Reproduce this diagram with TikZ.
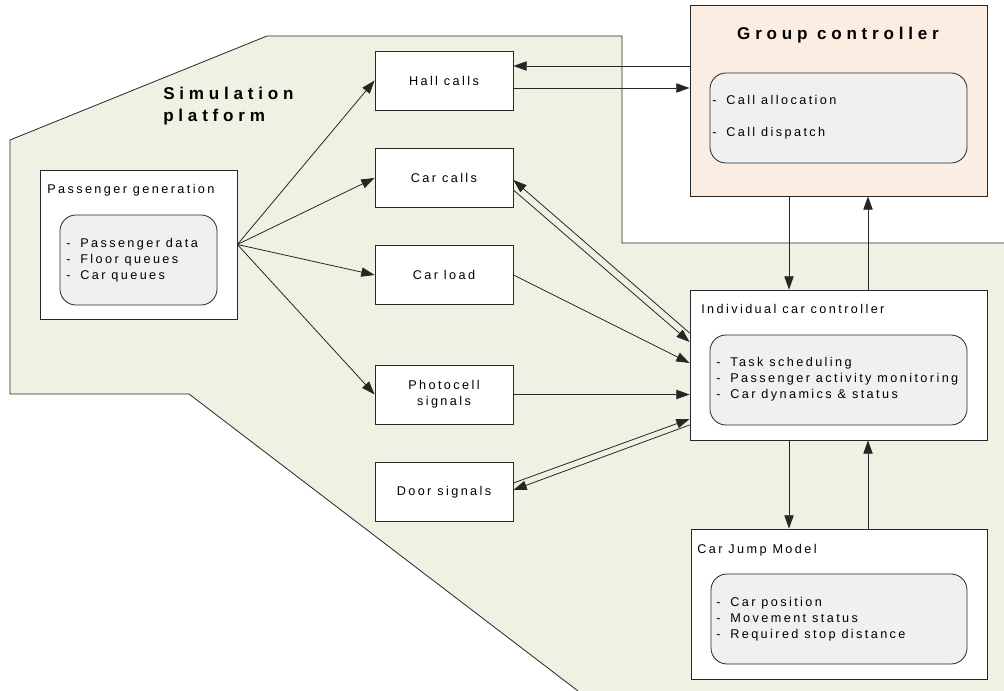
\documentclass[tikz,border=0pt]{standalone}
\usepackage{fontspec}
\setmainfont{Liberation Sans}[LetterSpace=19]
\newfontfamily\widefont{Liberation Sans}[LetterSpace=28]
\usetikzlibrary{arrows.meta,fit}
\definecolor{platform}{HTML}{EEF2E3}
\definecolor{peach}{HTML}{FCEDE3}
\definecolor{inner}{HTML}{F0F0F0}
\definecolor{edge}{HTML}{262626}
\newcommand{\itm}[1]{\makebox[10.5pt][l]{-}#1}

\begin{document}
\begin{tikzpicture}[x=0.75pt,y=-0.75pt,
  font=\fontsize{9.5}{12}\selectfont,
  box/.style={draw=edge,fill=white,line width=0.6pt,inner sep=0pt},
  sig/.style={box,minimum width=103.5pt,minimum height=44.25pt,align=center},
  inbox/.style={draw=edge,fill=inner,line width=0.6pt,rounded corners=12pt,inner sep=0pt},
  lst/.style={anchor=west,align=left,inner sep=0pt},
  title/.style={font=\widefont\bfseries\fontsize{12.8}{16.5}\selectfont},
  arr/.style={draw=edge,line width=0.6pt,-{Triangle[length=10pt,width=7pt]}}]
  \useasboundingbox (0,0) rectangle (1004,691);
  \fill[platform] (10,140) -- (267,36) -- (622,36) -- (622,243) -- (1004,243) -- (1004,691) -- (578,691) -- (189,394) -- (10,394) -- cycle;
  \draw[edge,line width=0.6pt] (1004,243) -- (622,243) -- (622,36) -- (267,36) -- (10,140) -- (10,394) -- (189,394) -- (578,691);
  \node[title,lst] (simlabel) at (163,106) {Simulation\\platform};

  \node[box,fit={(40,170) (237,319)}] (pgen) {};
  \node[lst] (pgentitle) at (47,190) {Passenger generation};
  \node[inbox,fit={(60,215) (217,305)}] (pgenin) {};
  \node[lst] (pgenlist) at (66,260) {\itm{Passenger data}\\\itm{Floor queues}\\\itm{Car queues}};

  \foreach \n/\y/\txt in {hall/80.5/Hall calls, carcalls/178/Car calls, carload/275/Car load, photo/394.5/{Photocell\\signals}, door/492/Door signals}
    \node[sig] (\n) at (444,\y) {\txt};

  \node[box,fill=peach,fit={(690,5) (987,196)}] (gc) {};
  \node[title] (gctitle) at (838,35) {Group controller};
  \node[inbox,fit={(710,73) (967,163)}] (gcin) {};
  \node[lst] (gclist) at (712,117) {\itm{Call allocation}\\[12pt]\itm{Call dispatch}};

  \node[box,fit={(690,290) (987,440)}] (icc) {};
  \node[lst] (icctitle) at (701,309) {Individual car controller};
  \node[inbox,fit={(710,335) (967,425)}] (iccin) {};
  \node[lst] (icclist) at (716,379) {\itm{Task scheduling}\\\itm{Passenger activity monitoring}\\\itm{Car dynamics \& status}};

  \node[box,fit={(691,529) (987,679)}] (cjm) {};
  \node[lst] (cjmtitle) at (697,550) {Car Jump Model};
  \node[inbox,fit={(711,574) (967,664)}] (cjmin) {};
  \node[lst] (cjmlist) at (716,619) {\itm{Car position}\\\itm{Movement status}\\\itm{Required stop distance}};

  \foreach \t in {hall,carcalls,carload,photo}
    \draw[arr] (pgen.east) -- (\t.west);
  \draw[arr] (gc.west |- 0,66) -- (hall.east |- 0,66);
  \draw[arr] (hall.east |- 0,88) -- (gc.west |- 0,88);
  \draw[arr] (icc.west |- 0,333) -- (carcalls.east |- 0,180);
  \draw[arr] (carcalls.east |- 0,190) -- (icc.west |- 0,342);
  \draw[arr] (carload.east) -- (icc.west |- 0,363);
  \draw[arr] (photo.east) -- (icc.west |- photo.east);
  \draw[arr] (door.east |- 0,483) -- (icc.west |- 0,419);
  \draw[arr] (icc.west |- 0,425) -- (door.east |- 0,490);
  \draw[arr] (gc.south -| 789,0) -- (icc.north -| 789,0);
  \draw[arr] (icc.north -| 868,0) -- (gc.south -| 868,0);
  \draw[arr] (icc.south -| 789,0) -- (cjm.north -| 789,0);
  \draw[arr] (cjm.north -| 868,0) -- (icc.south -| 868,0);
\end{tikzpicture}
\end{document}
